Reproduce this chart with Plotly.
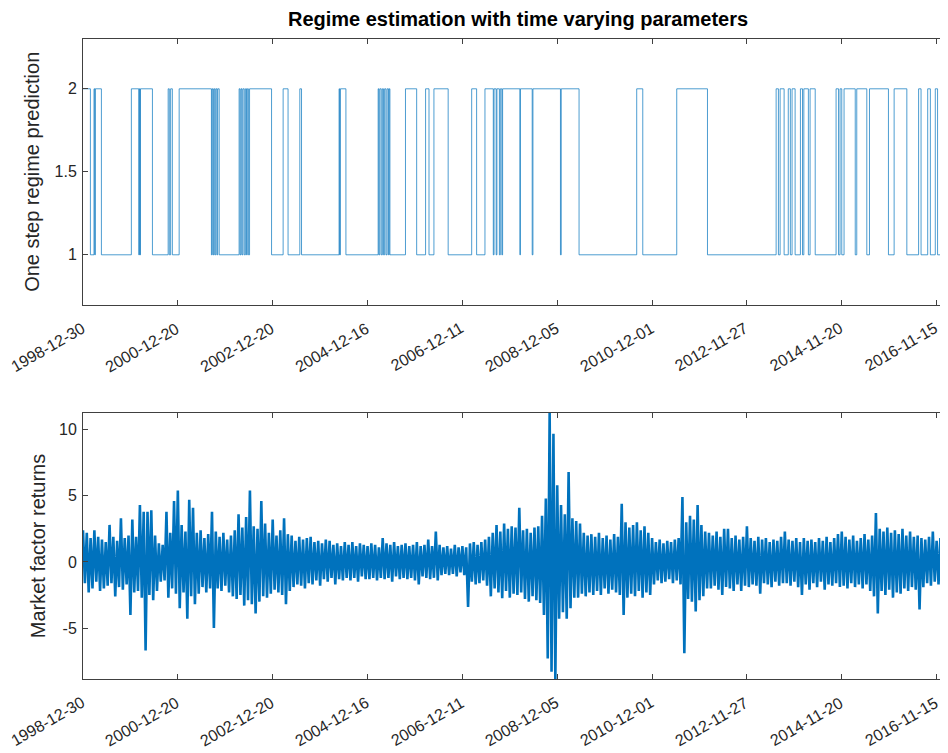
import plotly.graph_objects as go
from plotly.subplots import make_subplots

# ---- data ----
tick_idx = [0, 500, 1000, 1500, 2000, 2500, 3000, 3500, 4000, 4500]
tick_dates = ["1998-12-30", "2000-12-20", "2002-12-20", "2004-12-16", "2006-12-11",
              "2008-12-05", "2010-12-01", "2012-11-27", "2014-11-20", "2016-11-15"]
n_obs = 4560

regime_change_idx = [0, 39, 58, 62, 65, 97, 255, 294, 297, 300, 303, 366, 449, 455, 462, 471,
                     507, 677, 681, 686, 690, 695, 700, 706, 710, 718, 823, 828, 833, 838, 843,
                     850, 856, 862, 866, 872, 878, 994, 1055, 1081, 1143, 1152, 1350, 1353, 1357,
                     1386, 1556, 1560, 1565, 1572, 1578, 1584, 1590, 1597, 1603, 1610, 1614, 1618,
                     1700, 1759, 1806, 1824, 1850, 1925, 2049, 2075, 2119, 2163, 2167, 2178, 2182,
                     2195, 2200, 2208, 2212, 2303, 2306, 2368, 2372, 2517, 2521, 2615, 2919, 2951,
                     3130, 3292, 3654, 3666, 3675, 3696, 3718, 3729, 3738, 3754, 3782, 3793, 3800,
                     3824, 3833, 3860, 3970, 3983, 3991, 4000, 4012, 4071, 4079, 4132, 4146, 4246,
                     4276, 4343, 4405, 4418, 4453, 4467, 4493, 4505, 4546]
regime_values = [2, 1, 2, 1, 2, 1, 2, 1, 2, 1, 2, 1, 2, 1, 2, 1,
                 2, 1, 2, 1, 2, 1, 2, 1, 2, 1, 2, 1, 2, 1, 2,
                 1, 2, 1, 2, 1, 2, 1, 2, 1, 2, 1, 2, 1, 2,
                 1, 2, 1, 2, 1, 2, 1, 2, 1, 2, 1, 2, 1,
                 2, 1, 2, 1, 2, 1, 2, 1, 2, 1, 2, 1, 2,
                 1, 2, 1, 2, 1, 2, 1, 2, 1, 2, 1, 2, 1,
                 2, 1, 2, 1, 2, 1, 2, 1, 2, 1, 2, 1, 2,
                 1, 2, 1, 2, 1, 2, 1, 2, 1, 2, 1, 2, 1,
                 2, 1, 2, 1, 2, 1, 2, 1, 2]

# market factor returns, sampled every 10 trading days (alternating local highs / lows)
market_returns = [
    2.4, -1.6, 2.2, -2.3, 1.8, -2.0, 2.4, -1.5, 1.9, -2.2,
    1.7, -2.0, 1.5, -1.8, 2.8, -1.6, 1.9, -2.6, 1.6, -1.9,
    3.3, -2.1, 1.8, -1.7, 2.0, -4.0, 3.2, -2.3, 1.9, -2.2,
    4.3, -2.7, 3.8, -6.7, 3.8, -2.5, 3.9, -2.9, 2.0, -2.2,
    1.4, -1.5, 1.3, -1.4, 3.8, -2.7, 2.2, -2.0, 4.6, -2.4,
    5.4, -3.5, 2.8, -2.3, 2.3, -4.3, 4.7, -2.6, 4.1, -3.2,
    2.2, -2.4, 2.4, -1.9, 1.8, -2.3, 2.1, -2.0, 3.8, -5.0,
    2.3, -2.0, 1.9, -2.2, 2.2, -1.8, 1.7, -2.3, 2.0, -2.6,
    2.4, -2.8, 3.6, -2.5, 2.6, -3.3, 3.4, -2.9, 5.4, -3.2,
    2.7, -3.9, 2.5, -3.0, 4.6, -2.6, 2.9, -2.7, 2.2, -2.4,
    3.2, -2.1, 2.0, -2.3, 2.4, -2.5, 3.3, -3.2, 2.1, -2.2,
    2.0, -1.9, 1.6, -1.7, 1.9, -1.8, 1.7, -2.0, 1.8, -1.6,
    1.9, -1.7, 1.5, -1.4, 1.6, -1.8, 1.4, -1.3, 1.7, -1.5,
    1.6, -1.2, 1.3, -1.7, 1.4, -1.3, 1.2, -1.4, 1.5, -1.2,
    1.3, -1.4, 1.5, -1.2, 1.2, -1.5, 1.4, -1.1, 1.3, -1.3,
    1.2, -1.3, 1.4, -1.2, 1.3, -1.4, 1.1, -1.2, 1.8, -1.3,
    1.4, -1.2, 1.3, -1.5, 1.5, -1.1, 1.2, -1.3, 1.3, -1.2,
    1.4, -1.3, 1.2, -1.2, 1.3, -1.4, 1.5, -1.7, 1.2, -1.1,
    1.3, -1.2, 1.7, -1.3, 1.2, -1.2, 2.3, -1.4, 1.3, -1.0,
    1.1, -0.9, 1.2, -1.0, 1.0, -0.9, 1.3, -1.1, 1.1, -0.8,
    1.2, -1.0, 1.1, -3.4, 1.4, -1.5, 1.5, -1.7, 1.3, -1.6,
    1.5, -1.4, 1.7, -1.8, 1.9, -2.6, 2.2, -2.0, 2.8, -2.3,
    2.3, -2.75, 2.9, -2.2, 2.5, -2.7, 2.7, -2.4, 2.6, -2.5,
    4.1, -2.3, 2.4, -2.8, 2.5, -3.0, 2.2, -2.6, 2.6, -2.9,
    2.7, -3.1, 3.5, -4.0, 4.8, -7.3, 11.26, -8.3, 9.7, -8.85,
    5.8, -4.3, 4.3, -3.8, 3.6, -4.3, 6.8, -3.5, 3.3, -2.7,
    3.1, -2.7, 2.9, -2.4, 2.2, -2.6, 2.0, -2.3, 2.1, -2.5,
    1.9, -2.2, 2.2, -2.5, 1.8, -2.0, 2.0, -2.4, 1.7, -2.1,
    2.1, -2.3, 1.9, -2.5, 4.4, -4.0, 3.0, -2.7, 2.6, -2.4,
    2.8, -2.6, 3.0, -2.2, 2.4, -2.7, 2.7, -2.3, 2.2, -2.5,
    1.8, -1.7, 1.5, -1.4, 1.7, -1.6, 1.4, -1.5, 1.6, -1.3,
    1.5, -1.6, 1.7, -1.4, 1.8, -1.7, 4.9, -6.9, 3.0, -2.8,
    3.5, -3.0, 3.2, -3.75, 4.3, -2.9, 2.8, -2.6, 2.3, -2.0,
    2.2, -2.0, 2.0, -1.8, 2.3, -2.1, 1.9, -2.5, 2.5, -1.9,
    2.5, -2.0, 1.8, -2.2, 2.0, -1.7, 1.7, -2.2, 1.9, -1.8,
    2.7, -1.9, 1.8, -1.7, 1.6, -1.8, 1.9, -2.4, 1.7, -1.6,
    1.8, -1.7, 1.5, -1.9, 1.7, -1.5, 1.6, -1.8, 1.9, -1.6,
    2.3, -1.6, 1.7, -1.8, 1.6, -1.5, 1.8, -1.9, 1.5, -2.5,
    1.8, -1.7, 1.6, -2.1, 1.7, -1.6, 1.5, -1.9, 1.8, -1.5,
    1.6, -2.1, 1.9, -1.7, 1.5, -1.8, 1.8, -1.6, 2.1, -1.9,
    2.3, -1.8, 1.9, -2.0, 1.7, -1.6, 2.0, -1.9, 1.6, -1.7,
    1.8, -2.0, 2.1, -1.7, 1.7, -2.2, 2.0, -2.6, 3.7, -3.9,
    2.5, -2.2, 2.3, -2.5, 2.6, -2.1, 2.2, -2.7, 2.4, -2.3,
    2.1, -2.4, 2.5, -2.0, 2.0, -2.2, 2.3, -1.9, 1.9, -2.1,
    2.0, -3.6, 1.8, -1.9, 1.7, -1.6, 1.9, -1.8, 2.3, -1.5,
    1.6, -1.7, 1.8, -1.4, 1.5, -1.6,
]
return_sample_step = 10

# ---- figure ----
line_color = "#0072BD"
axis_color = "#404040"
text_color = "#262626"
font_family = "Liberation Sans, Arial, sans-serif"

fig = make_subplots(rows=2, cols=1, vertical_spacing=0.17)

reg_x = regime_change_idx + [n_obs]
reg_y = regime_values + [regime_values[-1]]
fig.add_trace(go.Scatter(x=reg_x, y=reg_y, mode="lines", line_shape="hv",
                         line=dict(color=line_color, width=0.7), showlegend=False),
              row=1, col=1)

ret_x = [i * return_sample_step for i in range(len(market_returns))]
fig.add_trace(go.Scatter(x=ret_x, y=market_returns, mode="lines",
                         line=dict(color=line_color, width=2.6, simplify=False), showlegend=False),
              row=2, col=1)

common_x = dict(range=[0, n_obs], tickmode="array", tickvals=tick_idx, showticklabels=False,
                ticks="inside", ticklen=5, tickcolor=axis_color,
                showline=True, linecolor=axis_color, linewidth=1, mirror="ticks",
                showgrid=False, zeroline=False, automargin=False)
common_y = dict(ticks="inside", ticklen=5, tickcolor=axis_color,
                showline=True, linecolor=axis_color, linewidth=1, mirror="ticks",
                showgrid=False, zeroline=False, automargin=False, ticklabelstandoff=2,
                tickfont=dict(family=font_family, size=16, color=text_color))

fig.update_xaxes(**common_x, row=1, col=1)
fig.update_xaxes(**common_x, row=2, col=1)
fig.update_yaxes(**common_y, range=[0.7, 2.3], tickvals=[1, 1.5, 2], ticktext=["1", "1.5", "2"],
                 title=dict(text="One step regime prediction",
                            font=dict(family=font_family, size=20, color=text_color), standoff=9),
                 row=1, col=1)
fig.update_yaxes(**common_y, range=[-8.85, 11.26], tickvals=[-5, 0, 5, 10],
                 ticktext=["-5", "0", "5", "10"],
                 title=dict(text="Market factor returns",
                            font=dict(family=font_family, size=20, color=text_color), standoff=7),
                 row=2, col=1)

# rotated date labels under each axis (MATLAB-style: right end at the tick)
for xref, yref in (("x", "y domain"), ("x2", "y2 domain")):
    for xv, label in zip(tick_idx, tick_dates):
        fig.add_annotation(x=xv, y=0, xref=xref, yref=yref, text=label, showarrow=False,
                           textangle=-30, xanchor="right", yanchor="top",
                           xshift=7, yshift=-12,
                           font=dict(family=font_family, size=16, color=text_color))

# the page body adds an 8px offset, so the margins are shifted by that amount
fig.update_layout(
    width=948, height=753,
    margin=dict(l=75, r=8, t=31, b=82, autoexpand=False),
    plot_bgcolor="white", paper_bgcolor="white",
    xaxis=dict(domain=[0, 1]), yaxis=dict(domain=[0.585, 1.0]),
    xaxis2=dict(domain=[0, 1]), yaxis2=dict(domain=[0.0, 0.4156]),
    title=dict(text="<b>Regime estimation with time varying parameters</b>",
               x=0.538, xanchor="center", y=0.9854, yanchor="middle",
               font=dict(family=font_family, size=20, color="#000000")),
)

fig.write_html("out.html")
